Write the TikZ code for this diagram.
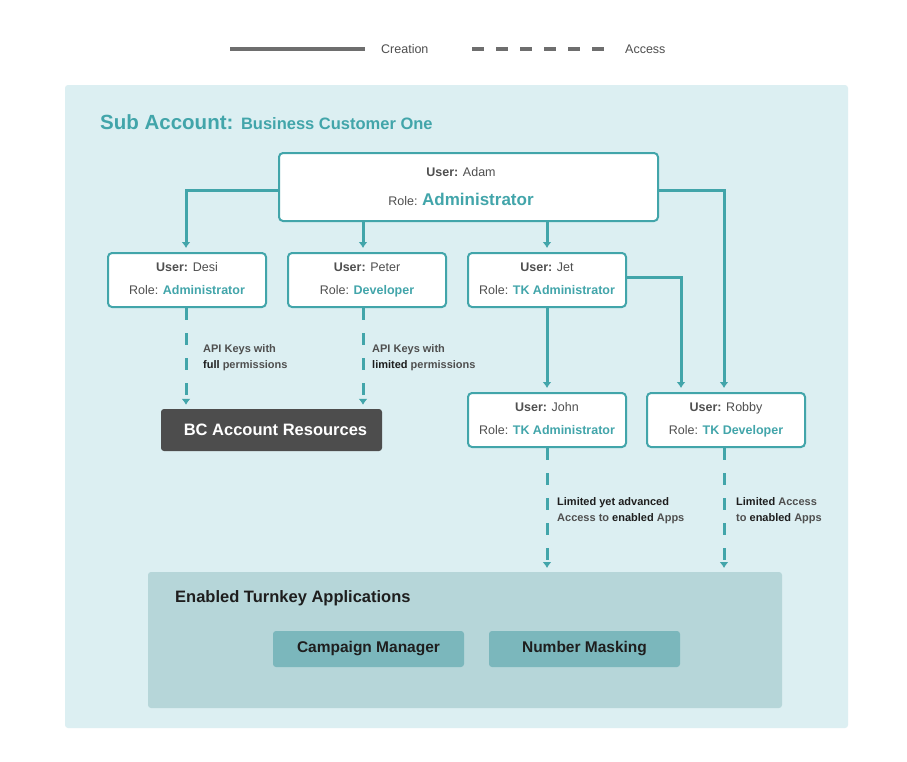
\documentclass[tikz,border=0pt]{standalone}
\usepackage{fontspec}
\setmainfont{Liberation Sans}
\usetikzlibrary{arrows.meta}
\definecolor{tealc}{HTML}{42A5AA}
\definecolor{panelbg}{HTML}{DCEFF2}
\definecolor{tkbg}{HTML}{B6D6D9}
\definecolor{appbg}{HTML}{7BB7BC}
\definecolor{darkbox}{HTML}{4D4D4D}
\definecolor{txtgray}{HTML}{4F4F4F}
\definecolor{txtdark}{HTML}{1E1E1E}
\definecolor{leggray}{HTML}{6E6E6E}
\begin{document}
\begin{tikzpicture}[x=1pt,y=-1pt,
  userbox/.style={draw=tealc, line width=2pt, fill=white, rounded corners=4pt, minimum width=158pt, minimum height=54pt, inner sep=0pt},
  utext/.style={anchor=base, inner sep=0pt, text=txtgray, font=\fontsize{12.5}{15}\selectfont},
  lbl/.style={anchor=base west, inner sep=0pt, text=txtgray, font=\fontsize{11}{16}\selectfont\bfseries, align=left},
  create/.style={draw=tealc, line width=3pt, -{Latex[length=6pt,width=9pt]}, shorten >=4pt},
  access/.style={draw=tealc, line width=3pt, dash pattern=on 12pt off 13pt, -{Latex[length=6pt,width=9pt]}, shorten >=4pt},
  appbox/.style={fill=appbg, rounded corners=3pt, minimum width=191pt, minimum height=36pt, inner sep=0pt, text=txtdark, font=\fontsize{15.5}{18}\selectfont\bfseries}
]
\useasboundingbox (0,0) rectangle (907,761);
\fill[white] (0,0) rectangle (907,761);

% legend
\coordinate (lsa) at (230,49);
\coordinate (lsb) at (365,49);
\coordinate (lda) at (472,49);
\coordinate (ldb) at (605,49);
\draw[leggray, line width=3.5pt] (lsa) -- (lsb);
\draw[leggray, line width=3.5pt, dash pattern=on 12pt off 12pt] (lda) -- (ldb);
\node[anchor=base west, inner sep=0pt, text=txtgray, font=\fontsize{12.5}{15}\selectfont] (legc) at (381,53) {Creation};
\node[anchor=base west, inner sep=0pt, text=txtgray, font=\fontsize{12.5}{15}\selectfont] (lega) at (625,53) {Access};

% main panel
\fill[panelbg, rounded corners=3pt] (65,85) rectangle (848,728);
\node[anchor=base west, inner sep=0pt, text=tealc, font=\bfseries] (title) at (100,129)
  {\fontsize{20.5}{24}\selectfont Sub Account: \fontsize{16.5}{20}\selectfont Business Customer One};

% turnkey panel
\fill[tkbg, rounded corners=3pt] (148,572) rectangle (782,708);
\node[anchor=base west, inner sep=0pt, text=txtdark, font=\fontsize{16.5}{20}\selectfont\bfseries] (tktitle) at (175,602) {Enabled Turnkey Applications};
\coordinate (tktop) at (465,572);
\node[appbox] (cm) at (368.5,649) {Campaign Manager};
\node[appbox] (nm) at (584.5,649) {Number Masking};

% user boxes
\node[userbox, minimum width=379pt, minimum height=68pt] (adam) at (468.5,187) {};
\node[utext] (adamU) at (461,176) {\textbf{User:} Adam};
\node[utext] (adamR) at (461,205) {Role: \textcolor{tealc}{\fontsize{17}{20}\selectfont\bfseries Administrator}};

\node[userbox] (desi) at (187,280) {};
\node[utext] (desiU) at (187,271) {\textbf{User:} Desi};
\node[utext] (desiR) at (187,294) {Role: \textcolor{tealc}{\bfseries Administrator}};

\node[userbox] (peter) at (367,280) {};
\node[utext] (peterU) at (367,271) {\textbf{User:} Peter};
\node[utext] (peterR) at (367,294) {Role: \textcolor{tealc}{\bfseries Developer}};

\node[userbox] (jet) at (547,280) {};
\node[utext] (jetU) at (547,271) {\textbf{User:} Jet};
\node[utext] (jetR) at (547,294) {Role: \textcolor{tealc}{\bfseries TK Administrator}};

\node[userbox] (john) at (547,420) {};
\node[utext] (johnU) at (547,411) {\textbf{User:} John};
\node[utext] (johnR) at (547,434) {Role: \textcolor{tealc}{\bfseries TK Administrator}};

\node[userbox] (robby) at (726,420) {};
\node[utext] (robbyU) at (726,411) {\textbf{User:} Robby};
\node[utext] (robbyR) at (726,434) {Role: \textcolor{tealc}{\bfseries TK Developer}};

% BC resources
\node[fill=darkbox, rounded corners=3pt, minimum width=221pt, minimum height=42pt, inner sep=0pt] (bc) at (271.5,430) {};
\node[inner sep=0pt, text=white, font=\fontsize{16.5}{20}\selectfont\bfseries] (bct) at (275.5,430) {BC Account Resources};

% creation connectors
\draw[create] ([yshift=-3pt]adam.west) -| ([xshift=-1pt]desi.north);
\draw[create] ([xshift=-4pt]peter.north |- adam.south) -- ([xshift=-4pt]peter.north);
\draw[create] (jet.north |- adam.south) -- (jet.north);
\draw[create] ([yshift=-3pt]adam.east) -| ([xshift=-2pt]robby.north);
\draw[create] (jet.south) -- (john.north);
\draw[create] ([yshift=3pt]jet.east) -| ([xshift=-45pt]robby.north);

% access connectors
\draw[access] ([xshift=-1pt]desi.south) -- ([xshift=-1pt]desi.south |- bc.north);
\draw[access] ([xshift=-4pt]peter.south) -- ([xshift=-4pt]peter.south |- bc.north);
\draw[access] (john.south) -- (john.south |- tktop);
\draw[access] ([xshift=-2pt]robby.south) -- ([xshift=-2pt]robby.south |- tktop);

% access labels
\node[lbl] (l1) at (203,368) {API Keys with\\\textcolor{txtdark}{full} permissions};
\node[lbl] (l2) at (372,368) {API Keys with\\\textcolor{txtdark}{limited} permissions};
\node[lbl] (l3) at (557,521) {\textcolor{txtdark}{Limited yet advanced}\\Access to \textcolor{txtdark}{enabled} Apps};
\node[lbl] (l4) at (736,521) {\textcolor{txtdark}{Limited} Access\\to \textcolor{txtdark}{enabled} Apps};
\end{tikzpicture}
\end{document}
